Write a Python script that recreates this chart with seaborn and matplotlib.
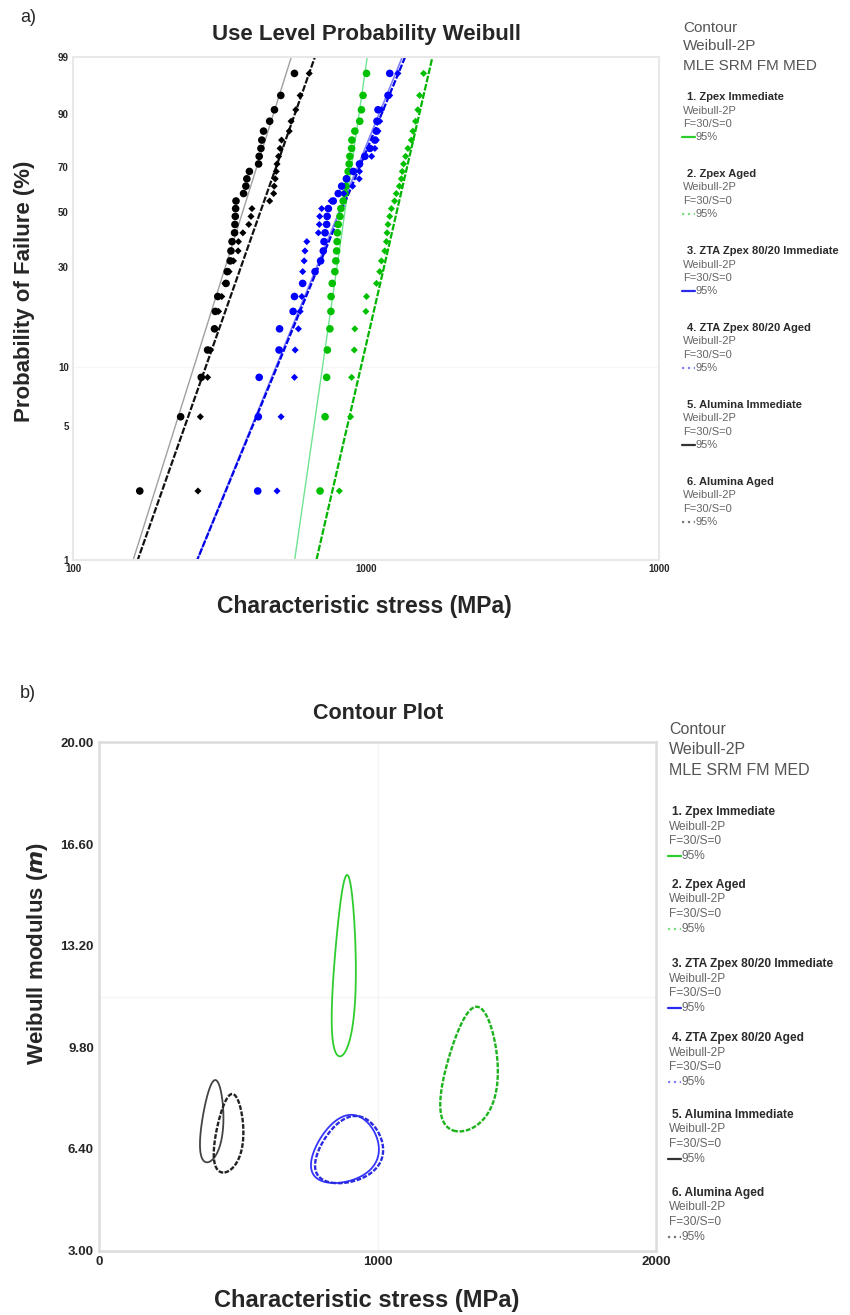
import numpy as np
import pandas as pd
import matplotlib
matplotlib.use("Agg")
import matplotlib.pyplot as plt
from matplotlib.lines import Line2D
from matplotlib.ticker import NullLocator
import seaborn as sns

sns.set_theme(style="white")
plt.rcParams["font.family"] = ["Liberation Sans", "DejaVu Sans"]

# ---- data -----------------------------------------------------------------
series = ["Zpex Immediate", "Zpex Aged", "ZTA Zpex 80/20 Immediate",
          "ZTA Zpex 80/20 Aged", "Alumina Immediate", "Alumina Aged"]

# failure stresses (MPa), 30 specimens per group
zpex_imm = [697, 725, 734, 738, 753, 759, 760, 767, 783, 789, 794, 797, 799, 804, 815,
            821, 836, 847, 854, 858, 869, 876, 881, 893, 895, 916, 952, 965, 977, 1004]
zpex_aged = [811, 886, 893, 912, 916, 999, 1004, 1086, 1114, 1129, 1159, 1174, 1180, 1189, 1205,
             1221, 1252, 1269, 1300, 1320, 1330, 1343, 1365, 1390, 1428, 1446, 1476, 1503, 1524, 1572]
zta_imm = [427, 429, 432, 505, 507, 564, 570, 608, 670, 700, 715, 719, 725, 734, 737,
           744, 773, 804, 826, 858, 905, 950, 991, 1031, 1072, 1085, 1090, 1099, 1189, 1205]
zta_aged = [497, 513, 570, 573, 588, 596, 604, 606, 608, 615, 619, 628, 688, 693, 695,
            706, 760, 840, 900, 948, 950, 953, 1045, 1072, 1085, 1099, 1114, 1129, 1205, 1285]
alu_imm = [169, 233, 274, 288, 304, 306, 312, 333, 336, 344, 346, 349, 356, 357, 358,
           359, 360, 382, 389, 392, 400, 430, 432, 438, 441, 447, 469, 487, 512, 570]
alu_aged = [267, 272, 288, 295, 306, 314, 322, 330, 341, 353, 366, 367, 380, 398, 405,
            408, 469, 484, 486, 490, 494, 497, 503, 509, 515, 547, 555, 576, 596, 640]
stress_data = [zpex_imm, zpex_aged, zta_imm, zta_aged, alu_imm, alu_aged]

# fitted Weibull lines shown on the probability plot
fit_beta = [10.74, 6.72, 3.80, 3.75, 4.93, 4.40]
fit_eta = [876, 1343, 890, 905, 408, 473]

# 95% contours: centre (eta, m), log spreads and correlation
cont_eta = [880, 1331, 879, 894, 404, 464]
cont_m = [12.16, 8.83, 6.30, 6.28, 7.20, 6.80]
cont_sd_eta = [0.048, 0.076, 0.137, 0.135, 0.103, 0.113]
cont_sd_m = [0.247, 0.234, 0.180, 0.178, 0.190, 0.192]
cont_rho = [0.30, 0.30, 0.25, 0.25, 0.35, 0.30]

prob_ticks = [1, 5, 10, 30, 50, 70, 90, 99]
stress_ticks = [100, 1000, 10000]
stress_labels = ["100", "1000", "1000"]
m_ticks = [3.0, 6.4, 9.8, 13.2, 16.6, 20.0]
c_stress_ticks = [0, 1000, 2000]

# ---- styles ---------------------------------------------------------------
pt_colors = ["#00c000", "#00c000", "#0000ff", "#0000ff", "#000000", "#000000"]
pt_markers = ["o", "D", "o", "D", "o", "D"]
pt_sizes = [30, 13, 30, 13, 30, 13]
fit_colors = ["#70e492", "#00b400", "#8080ff", "#0000e6", "#a0a0a0", "#111111"]
fit_ls = ["-", (0, (3, 0.8)), "-", (0, (3, 0.8)), "-", (0, (3, 0.8))]
fit_lw = [1.0, 1.6, 1.2, 1.6, 1.0, 1.6]
ct_colors = ["#2ecc2e", "#1db31d", "#3535ff", "#2a2ae0", "#444444", "#222222"]
ct_ls = ["solid", (0, (2, 0.7)), "solid", (0, (2, 0.7)), "solid", (0, (2, 0.7))]
ct_lw = [1.3, 1.7, 1.3, 1.7, 1.3, 1.7]
leg_colors = ["#2ecc2e", "#7fe07f", "#2a2aee", "#8080ff", "#333333", "#777777"]
leg_ls = ["-", ":", "-", ":", "-", ":"]

W, H = 850, 1315
fig = plt.figure(figsize=(W / 100, H / 100), dpi=100)

rows = []
for name, vals in zip(series, stress_data):
    s = np.sort(np.asarray(vals, float))
    n = len(s)
    rank = (np.arange(1, n + 1) - 0.3) / (n + 0.4) * 100  # Benard median ranks
    rows.append(pd.DataFrame({"series": name, "stress": s, "prob": rank}))
df = pd.concat(rows, ignore_index=True)


def weib_fwd(p):
    p = np.clip(np.asarray(p, float), 1e-6, 100 - 1e-6)
    return np.log(-np.log(1 - p / 100))


def weib_inv(w):
    return 100 * (1 - np.exp(-np.exp(w)))


# ---- a) probability plot --------------------------------------------------
ax1 = fig.add_axes([73 / W, 1 - 560 / H, 586 / W, 503 / H])
for i, name in enumerate(series):
    lo, hi = [fit_eta[i] * (-np.log(1 - p)) ** (1 / fit_beta[i]) for p in (0.005, 0.997)]
    sg = np.geomspace(lo, hi, 40)
    sns.lineplot(x=sg, y=100 * (1 - np.exp(-(sg / fit_eta[i]) ** fit_beta[i])),
                 color=fit_colors[i], lw=fit_lw[i], ls=fit_ls[i], sort=False,
                 ax=ax1, zorder=2)
for i, name in enumerate(series):
    sns.scatterplot(data=df[df.series == name], x="stress", y="prob",
                    color=pt_colors[i], marker=pt_markers[i], s=pt_sizes[i],
                    edgecolor="none", legend=False, ax=ax1, zorder=3)

ax1.set_xscale("log")
ax1.set_yscale("function", functions=(weib_fwd, weib_inv))
ax1.set_xlim(100, 10000)
ax1.set_ylim(1, 99)
ax1.axhline(10, color="#f7f7f7", lw=1, zorder=0)
ax1.set_xticks(stress_ticks, labels=stress_labels)
ax1.set_yticks(prob_ticks, labels=[str(t) for t in prob_ticks])
ax1.xaxis.set_minor_locator(NullLocator())
ax1.yaxis.set_minor_locator(NullLocator())
ax1.tick_params(length=0, pad=3, labelsize=7)
for lab in ax1.get_xticklabels() + ax1.get_yticklabels():
    lab.set_fontweight("bold")
ax1.set_xlabel("Characteristic stress (MPa)", fontsize=16.5, fontweight="bold", va="center")
ax1.set_ylabel("Probability of Failure (%)", fontsize=16, fontweight="bold", va="center")
ax1.xaxis.set_label_coords(0.498, -0.093)
ax1.yaxis.set_label_coords(-0.082, 0.535)
ax1.set_title("Use Level Probability Weibull", fontsize=16, fontweight="bold", pad=12)
for sp in ax1.spines.values():
    sp.set_color("#e8e8e8")
    sp.set_linewidth(1.5)

# ---- b) contour plot ------------------------------------------------------
ax2 = fig.add_axes([99.4 / W, 1 - 1250.6 / H, 556.7 / W, 508.1 / H])
E, M = np.meshgrid(np.linspace(1, 2000, 1600), np.linspace(3, 20, 1400))
for i in range(len(series)):
    z1 = np.log(E / cont_eta[i]) * (M / cont_m[i]) / cont_sd_eta[i]
    z2 = np.log(M / cont_m[i]) / cont_sd_m[i]
    r = cont_rho[i]
    Q = (z1 ** 2 - 2 * r * z1 * z2 + z2 ** 2) / (1 - r ** 2)
    ax2.contour(E, M, Q, levels=[1.0], colors=[ct_colors[i]],
                linewidths=ct_lw[i], linestyles=[ct_ls[i]], zorder=3)

ax2.set_xlim(0, 2000)
ax2.set_ylim(3, 20)
ax2.axhline(11.5, color="#f5f5f5", lw=1, zorder=0)
ax2.axvline(1000, color="#f5f5f5", lw=1, zorder=0)
ax2.set_xticks(c_stress_ticks, labels=[str(t) for t in c_stress_ticks])
ax2.set_yticks(m_ticks, labels=[f"{t:.2f}" for t in m_ticks])
ax2.tick_params(length=0, pad=4, labelsize=9.5)
for lab in ax2.get_xticklabels() + ax2.get_yticklabels():
    lab.set_fontweight("bold")
ax2.set_xlabel("Characteristic stress (MPa)", fontsize=17, fontweight="bold", va="center")
ax2.set_ylabel("Weibull modulus ($\\bfit{m}$)", fontsize=16, fontweight="bold", va="center")
ax2.xaxis.set_label_coords(0.48, -0.099)
ax2.yaxis.set_label_coords(-0.112, 0.584)
ax2.set_title("Contour Plot", fontsize=15.5, fontweight="bold", pad=17)
for sp in ax2.spines.values():
    sp.set_color("#dcdcdc")
    sp.set_linewidth(1.8)

fig.text(20 / W, 1 - 17 / H, "a)", fontsize=13, va="center")
fig.text(20 / W, 1 - 693 / H, "b)", fontsize=13, va="center")


# ---- legends --------------------------------------------------------------
def side_legend(head_y, block_y, offs, x_sub, x_head, fs_head, fs_item):
    for y, t in zip(head_y, ["Contour", "Weibull-2P", "MLE SRM FM MED"]):
        fig.text(x_sub / W, 1 - y / H, t, fontsize=fs_head, color="#555555", va="center")
    for i, name in enumerate(series):
        y0 = block_y[i]
        fig.text(x_head / W, 1 - y0 / H, f"{i + 1}. {name}", fontsize=fs_item,
                 color="#2a2a2a", fontweight="bold", va="center")
        fig.text(x_sub / W, 1 - (y0 + offs[1]) / H, "Weibull-2P", fontsize=fs_item,
                 color="#666666", va="center")
        fig.text(x_sub / W, 1 - (y0 + offs[2]) / H, "F=30/S=0", fontsize=fs_item,
                 color="#666666", va="center")
        yl = 1 - (y0 + offs[3]) / H
        fig.add_artist(Line2D([(x_sub - 1) / W, (x_sub + 12) / W], [yl, yl],
                              color=leg_colors[i], ls=leg_ls[i], lw=1.6))
        fig.text((x_sub + 13) / W, yl, "95%", fontsize=fs_item, color="#666666", va="center")


side_legend([28, 46.5, 66], [97, 174, 251, 328, 405, 482], [0, 13.5, 27, 40],
            683, 687, 11, 8)
side_legend([729, 749, 771], [812, 885, 964, 1038, 1115, 1193], [0, 14.5, 29, 44],
            669, 672, 11.5, 8.6)

fig.savefig("out.png", dpi=100)
